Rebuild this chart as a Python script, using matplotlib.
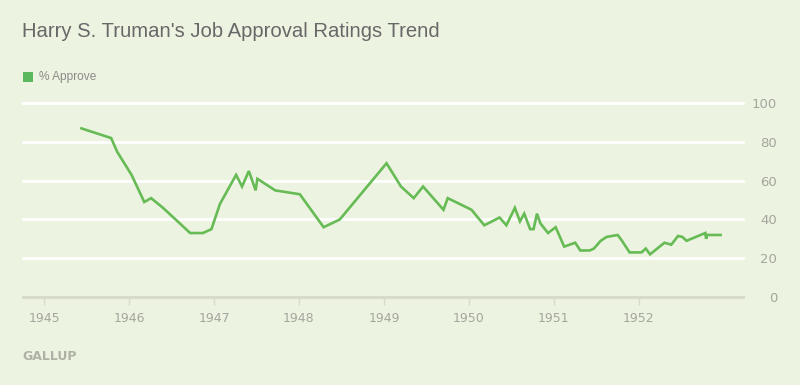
import matplotlib
matplotlib.use("Agg")
import matplotlib.pyplot as plt

# Gallup approval readings (decimal year, % approve)
years = [1945.44, 1945.79, 1945.86, 1946.03, 1946.18, 1946.26, 1946.40, 1946.72,
         1946.87, 1946.97, 1947.07, 1947.26, 1947.33, 1947.41, 1947.49, 1947.51,
         1947.72, 1948.01, 1948.29, 1948.48, 1949.03, 1949.20, 1949.35, 1949.46,
         1949.70, 1949.75, 1950.03, 1950.18, 1950.36, 1950.44, 1950.54, 1950.60,
         1950.65, 1950.72, 1950.76, 1950.80, 1950.84, 1950.93, 1951.02, 1951.12,
         1951.25, 1951.31, 1951.42, 1951.47, 1951.55, 1951.62, 1951.75, 1951.80,
         1951.89, 1952.03, 1952.08, 1952.13, 1952.30, 1952.38, 1952.46, 1952.51,
         1952.56, 1952.78, 1952.79, 1952.80, 1952.96]
approve = [87, 82, 75, 63, 49, 51, 46, 33,
           33, 35, 48, 63, 57, 65, 55, 61,
           55, 53, 36, 40, 69, 57, 51, 57,
           45, 51, 45, 37, 41, 37, 46, 39,
           43, 35, 35, 43, 38, 33, 36, 26,
           28, 24, 24, 25, 29, 31, 32, 29,
           23, 23, 25, 22, 28, 27, 31.5, 31,
           29, 33, 30, 32, 32]

year_ticks = [1945, 1946, 1947, 1948, 1949, 1950, 1951, 1952]
pct_ticks = [0, 20, 40, 60, 80, 100]

bg = '#edf3e1'
green = '#66bb55'
narrow = ['Liberation Sans Narrow', 'DejaVu Sans']

fig = plt.figure(figsize=(8, 3.85), dpi=100, facecolor=bg)
ax = fig.add_axes([0.02875, 0.2286, 0.9, 0.5034])
ax.set_facecolor(bg)

ax.plot(years, approve, color=green, linewidth=1.9, zorder=3, solid_joinstyle='miter')

ax.set_xlim(1944.753, 1953.224)
ax.set_ylim(0, 100)

# white horizontal gridlines, grey baseline
for v in pct_ticks[1:]:
    ax.axhline(v, color='white', linewidth=2.0, zorder=1, clip_on=False)
ax.axhline(0, color='#d6dbcc', linewidth=2.2, zorder=2, clip_on=False)

for s in ax.spines.values():
    s.set_visible(False)

ax.set_xticks(year_ticks)
ax.set_xticklabels([str(y) for y in year_ticks], family=narrow, fontsize=9, color='#a3a69c')
ax.tick_params(axis='x', length=6, width=1, color='#d6dbcc', pad=5)

ax.yaxis.tick_right()
ax.set_yticks(pct_ticks)
ax.set_yticklabels([str(v) for v in pct_ticks], family=narrow, fontsize=9.5,
                   color='#a3a69c', ha='right')
ax.tick_params(axis='y', length=0, pad=24.5)

fig.text(0.0275, 0.917, "Harry S. Truman's Job Approval Ratings Trend",
         family=['Liberation Sans', 'DejaVu Sans'], fontsize=14.6, color='#686868',
         va='center', ha='left')

# legend marker and label
fig.patches.append(plt.Rectangle((0.0284, 0.788), 0.0125, 0.026, transform=fig.transFigure,
                                 facecolor='#5cb85c', edgecolor='none'))
fig.text(0.049, 0.800, '% Approve', family=['Liberation Sans', 'DejaVu Sans'],
         fontsize=8.6, color='#8a8a8a', va='center', ha='left')

fig.text(0.028, 0.075, 'GALLUP', family=narrow, fontsize=9, fontweight='bold',
         color='#aeb1a6', va='center', ha='left')

fig.savefig('out.png', dpi=100, facecolor=bg)
